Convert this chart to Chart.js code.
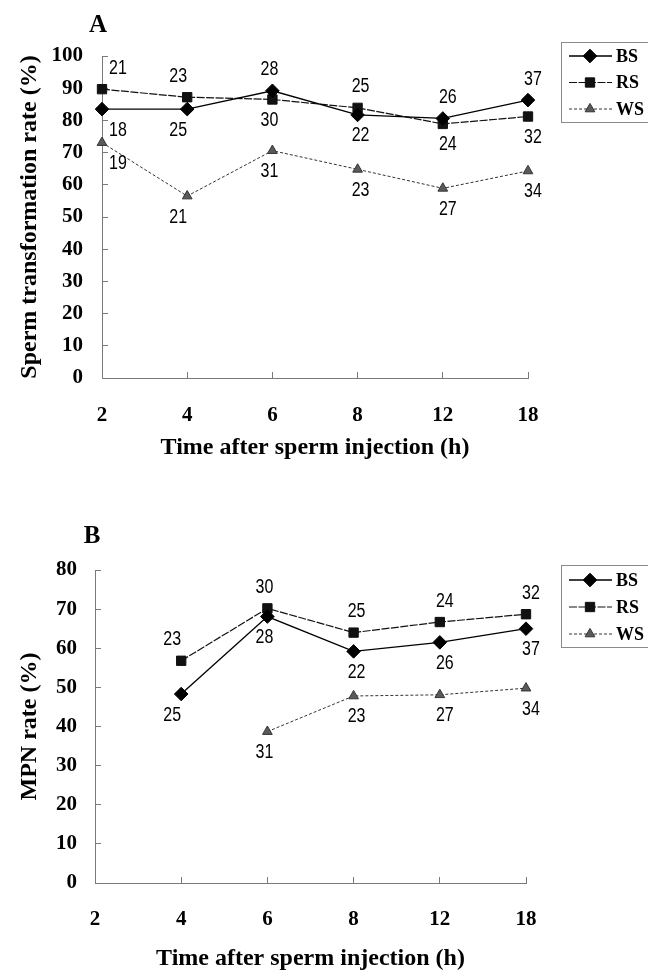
<!DOCTYPE html>
<html>
<head>
<meta charset="utf-8">
<script src="https://cdn.jsdelivr.net/npm/chart.js@4.4.1/dist/chart.umd.min.js"></script>
<style>
  html, body { margin: 0; padding: 0; background: #fff; }
  #wrap { position: relative; width: 648px; height: 970px; overflow: hidden; background: #fff; }
  canvas { position: absolute; left: 0; display: block; }
  #cA { top: 0; }
  #cB { top: 480px; }
</style>
</head>
<body>
<div id="wrap">
  <canvas id="cA" width="648" height="480"></canvas>
  <canvas id="cB" width="648" height="490"></canvas>
</div>
<script>
// ---------- data ----------
const categories = ['2', '4', '6', '8', '12', '18'];
const seriesNames = ['BS', 'RS', 'WS'];

// Panel A: sperm transformation rate (%)
const A_BS = [83.5, 83.5, 89.2, 81.7, 80.6, 86.3];
const A_RS = [89.7, 87.2, 86.5, 83.9, 78.9, 81.2];
const A_WS = [73.1, 56.5, 70.6, 64.8, 58.9, 64.3];
const A_nBS = [18, 25, 28, 22, 26, 37];
const A_nRS = [21, 23, 30, 25, 24, 32];
const A_nWS = [19, 21, 31, 23, 27, 34];

// Panel B: MPN rate (%)
const B_BS = [null, 48.3, 68.1, 59.2, 61.5, 65.0];
const B_RS = [null, 56.8, 70.2, 64.0, 66.7, 68.7];
const B_WS = [null, null, 38.7, 47.8, 48.1, 49.8];
const B_nBS = [null, 25, 28, 22, 26, 37];
const B_nRS = [null, 23, 30, 25, 24, 32];
const B_nWS = [null, null, 31, 23, 27, 34];

// ---------- layout / style ----------
const A_posBS = ['b', 'b', 'a', 'b', 'a', 'a'];
const A_posRS = ['a', 'a', 'b', 'a', 'b', 'b'];
const A_posWS = ['b', 'b', 'b', 'b', 'b', 'b'];
const B_posBS = ['b', 'b', 'b', 'b', 'b', 'b'];
const B_posRS = ['a', 'a', 'a', 'a', 'a', 'a'];
const B_posWS = ['b', 'b', 'b', 'b', 'b', 'b'];
const labelDx = [16, -9, -3, 3, 5, 5];

const SERIF = "'Liberation Serif', 'Times New Roman', serif";
const SANS = "'Liberation Sans', Arial, sans-serif";
const AXIS_COLOR = '#7a7a7a';

const styleBS = { borderColor: '#000', backgroundColor: '#000', borderWidth: 1.3, borderDash: [],
  pointStyle: 'rectRot', pointRadius: 6.8, pointBorderColor: '#000', pointBackgroundColor: '#000', pointBorderWidth: 1 };
const styleRS = { borderColor: '#111', backgroundColor: '#111', borderWidth: 1.2, borderDash: [8, 1.5],
  pointStyle: 'rect', pointRadius: 6.6, pointBorderColor: '#111', pointBackgroundColor: '#111', pointBorderWidth: 1 };
const styleWS = { borderColor: '#333', backgroundColor: '#5a5a5a', borderWidth: 1, borderDash: [3, 2],
  pointStyle: 'triangle', pointRadius: 5.6, pointBorderColor: '#333', pointBackgroundColor: '#5a5a5a', pointBorderWidth: 1 };

function ds(label, data, n, pos, style) {
  return Object.assign({ label, data, nLabels: n, nPos: pos, fill: false, tension: 0,
    spanGaps: false, pointHoverRadius: 6 }, style);
}

// ---------- plugins ----------
const countLabels = {
  id: 'countLabels',
  afterDatasetsDraw(chart) {
    const ctx = chart.ctx;
    chart.data.datasets.forEach((d, di) => {
      const meta = chart.getDatasetMeta(di);
      meta.data.forEach((el, i) => {
        const n = d.nLabels[i];
        if (n == null || d.data[i] == null) return;
        const off = d.nPos[i] === 'a' ? -21 : 21;
        ctx.save();
        ctx.translate(el.x + labelDx[i], el.y + off);
        ctx.scale(0.8, 1);
        ctx.font = '20px ' + SANS;
        ctx.fillStyle = '#000';
        ctx.textAlign = 'center';
        ctx.textBaseline = 'middle';
        ctx.fillText(String(n), 0, 0);
        ctx.restore();
      });
    });
  }
};

const panelDecor = {
  id: 'panelDecor',
  afterDraw(chart, args, opts) {
    const ctx = chart.ctx;
    ctx.save();
    ctx.font = 'bold 25px ' + SERIF;
    ctx.fillStyle = '#000';
    ctx.textAlign = 'center';
    ctx.textBaseline = 'middle';
    ctx.fillText(opts.letter, opts.letterX, opts.letterY);
    const bx = 561, by = opts.legendTop, bw = 95, bh = opts.legendH;
    ctx.strokeStyle = '#8a8a8a';
    ctx.lineWidth = 1;
    ctx.strokeRect(bx + 0.5, by + 0.5, bw, bh);
    chart.data.datasets.forEach((d, i) => {
      const y = by + opts.legendFirst + i * opts.legendStep;
      ctx.beginPath();
      ctx.setLineDash(d.borderDash || []);
      ctx.strokeStyle = d.borderColor;
      ctx.lineWidth = d.borderWidth;
      ctx.moveTo(569, y);
      ctx.lineTo(612, y);
      ctx.stroke();
      ctx.setLineDash([]);
      ctx.fillStyle = d.pointBackgroundColor;
      ctx.strokeStyle = d.pointBorderColor;
      ctx.lineWidth = d.pointBorderWidth;
      Chart.helpers.drawPoint(ctx, { pointStyle: d.pointStyle, radius: d.pointRadius, rotation: 0, borderWidth: d.pointBorderWidth }, 590, y);
      ctx.fillStyle = '#000';
      ctx.font = 'bold 18px ' + SERIF;
      ctx.textAlign = 'left';
      ctx.textBaseline = 'middle';
      ctx.fillText(d.label, 616, y + 1);
    });
    ctx.restore();
  }
};

function makeChart(canvasId, cfg) {
  return new Chart(document.getElementById(canvasId), {
    type: 'line',
    data: { labels: categories, datasets: cfg.datasets },
    options: {
      responsive: false,
      animation: false,
      events: [],
      layout: { padding: { left: 0, top: cfg.top, right: 648 - cfg.right, bottom: 0 } },
      plugins: {
        legend: { display: false },
        tooltip: { enabled: false },
        panelDecor: cfg.decor
      },
      scales: {
        x: {
          type: 'category',
          offset: false,
          grid: { display: true, drawOnChartArea: false, drawTicks: true, tickLength: -6, color: AXIS_COLOR },
          border: { display: true, color: AXIS_COLOR, width: 1 },
          ticks: { autoSkip: false, maxRotation: 0, color: '#000', padding: cfg.xPad,
                   font: { family: SERIF, size: 21, weight: 'bold' } },
          title: { display: true, text: 'Time after sperm injection (h)', color: '#000',
                   font: { family: SERIF, size: 24, weight: 'bold' }, padding: { top: 0, bottom: cfg.xTitlePad } },
          afterFit(s) { s.height = cfg.canvasH - cfg.bottom; }
        },
        y: {
          min: 0, max: cfg.ymax,
          grid: { display: true, drawOnChartArea: false, drawTicks: true, tickLength: -6, color: AXIS_COLOR },
          border: { display: true, color: AXIS_COLOR, width: 1 },
          ticks: { stepSize: 10, autoSkip: false, color: '#000', padding: cfg.yPad,
                   font: { family: SERIF, size: 21, weight: 'bold' } },
          title: { display: true, text: cfg.yTitle, color: '#000',
                   font: { family: SERIF, size: 24, weight: 'bold' }, padding: { top: 15, bottom: 0 } },
          afterFit(s) { s.width = cfg.left; }
        }
      }
    },
    plugins: [countLabels, panelDecor]
  });
}

makeChart('cA', {
  datasets: [
    ds(seriesNames[0], A_BS, A_nBS, A_posBS, styleBS),
    ds(seriesNames[1], A_RS, A_nRS, A_posRS, styleRS),
    ds(seriesNames[2], A_WS, A_nWS, A_posWS, styleWS)
  ],
  canvasH: 480, left: 102, right: 528, top: 56, bottom: 378, ymax: 100,
  xPad: 31, yPad: 25, xTitlePad: 18,
  yTitle: 'Sperm transformation rate (%)',
  decor: { letter: 'A', letterX: 98, letterY: 26, legendTop: 42, legendH: 80, legendFirst: 14, legendStep: 26.5 }
});

makeChart('cB', {
  datasets: [
    ds(seriesNames[0], B_BS, B_nBS, B_posBS, styleBS),
    ds(seriesNames[1], B_RS, B_nRS, B_posRS, styleRS),
    ds(seriesNames[2], B_WS, B_nWS, B_posWS, styleWS)
  ],
  canvasH: 490, left: 95, right: 526, top: 90, bottom: 403, ymax: 80,
  xPad: 30, yPad: 24, xTitlePad: -3,
  yTitle: 'MPN rate (%)',
  decor: { letter: 'B', letterX: 92, letterY: 57, legendTop: 85, legendH: 82, legendFirst: 15, legendStep: 27 }
});
</script>
</body>
</html>
